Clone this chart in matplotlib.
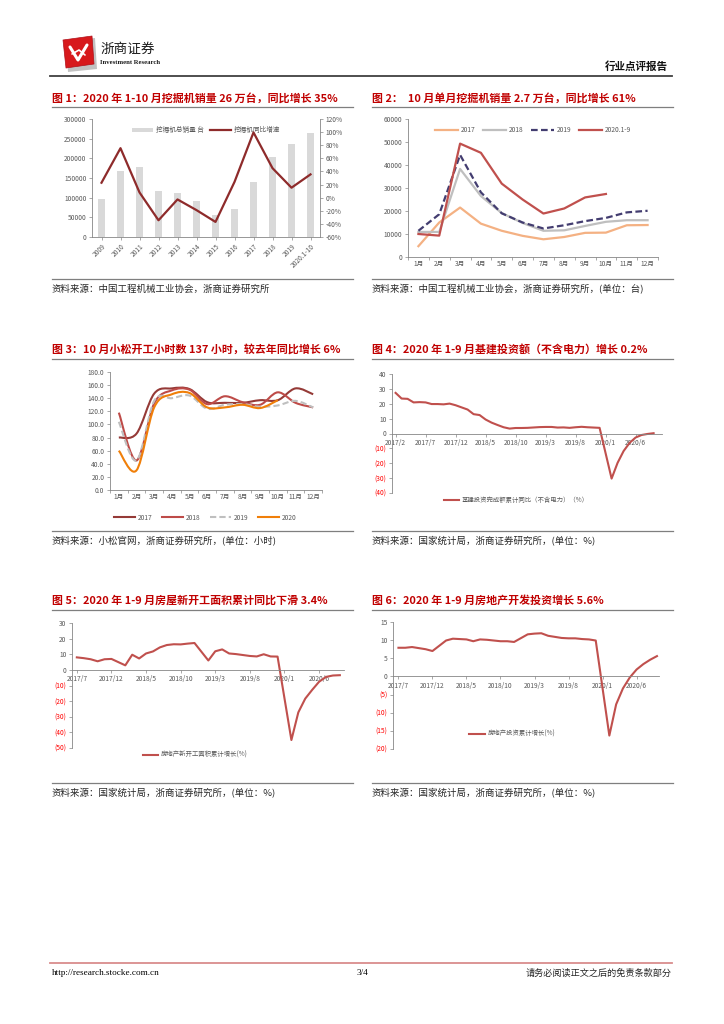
import numpy as np
import matplotlib
matplotlib.use('Agg')
import matplotlib.pyplot as plt
from matplotlib.path import Path
from matplotlib.patches import PathPatch, Polygon
from matplotlib.lines import Line2D

plt.rcParams['font.family'] = ['Noto Sans CJK SC', 'DejaVu Sans']

# ---------------- data ----------------

# chart 1: annual excavator sales and yoy growth
years = ['2009', '2010', '2011', '2012', '2013', '2014', '2015', '2016', '2017',
         '2018', '2019', '2020.1-10']
annual_sales = [96000, 168000, 179000, 116000, 113000, 91000, 57000, 70500, 140500,
                203500, 236000, 264500]
annual_yoy = [22.8, 75.5, 8.0, -34.5, -2.7, -19.0, -37.0, 24.0, 99.5, 45.0, 15.2, 35.5]

# chart 2: monthly excavator sales
months = ['1月', '2月', '3月', '4月', '5月', '6月', '7月', '8月', '9月', '10月', '11月', '12月']
sales_2017 = [4700, 15000, 21500, 14500, 11400, 9200, 7700, 8700, 10500, 10600, 13800, 13900]
sales_2018 = [10900, 10900, 38300, 26500, 19100, 14800, 11400, 11600, 13500, 15300, 16000, 16000]
sales_2019 = [11400, 18600, 44400, 28100, 19000, 15000, 12400, 13800, 15600, 17000, 19400, 20100]
sales_2020 = [10000, 9300, 49300, 45300, 31900, 25000, 18900, 21100, 25900, 27400]

# chart 3: Komatsu working hours
hours_2017 = [80, 86, 147, 155, 154, 134, 133, 133, 137, 137, 155, 146]
hours_2018 = [118, 45, 132, 152, 153, 131, 143, 134, 130, 149, 133, 126]
hours_2019 = [104, 45, 136, 140, 144, 124, 130, 131, 127, 129, 136, 126]
hours_2020 = [60, 30, 126, 146, 148, 126, 126, 130, 125, 137]

# chart 4: infrastructure investment (ex power), cumulative yoy %
infra_months = ['2017/2', '2017/3', '2017/4', '2017/5', '2017/6', '2017/7', '2017/8', '2017/9',
                '2017/10', '2017/11', '2017/12',
                '2018/2', '2018/3', '2018/4', '2018/5', '2018/6', '2018/7', '2018/8', '2018/9',
                '2018/10', '2018/11', '2018/12',
                '2019/2', '2019/3', '2019/4', '2019/5', '2019/6', '2019/7', '2019/8', '2019/9',
                '2019/10', '2019/11', '2019/12',
                '2020/2', '2020/3', '2020/4', '2020/5', '2020/6', '2020/7', '2020/8', '2020/9']
infra_yoy = [27.3, 23.5, 23.3, 20.9, 21.1, 20.9, 19.8, 19.8, 19.6, 20.1, 19.0,
             16.1, 13.0, 12.4, 9.4, 7.3, 5.7, 4.2, 3.3, 3.7, 3.7, 3.8,
             4.3, 4.4, 4.4, 4.0, 4.1, 3.8, 4.2, 4.5, 4.2, 4.0, 3.8,
             -30.3, -19.7, -11.8, -6.3, -2.7, -1.0, -0.3, 0.2]
infra_ticks = ['2017/2', '2017/7', '2017/12', '2018/5', '2018/10', '2019/3', '2019/8', '2020/1', '2020/6']

# chart 5 & 6: real estate
estate_months = ['2017/7', '2017/8', '2017/9', '2017/10', '2017/11', '2017/12',
                 '2018/2', '2018/3', '2018/4', '2018/5', '2018/6', '2018/7', '2018/8', '2018/9',
                 '2018/10', '2018/11', '2018/12',
                 '2019/2', '2019/3', '2019/4', '2019/5', '2019/6', '2019/7', '2019/8', '2019/9',
                 '2019/10', '2019/11', '2019/12',
                 '2020/2', '2020/3', '2020/4', '2020/5', '2020/6', '2020/7', '2020/8', '2020/9']
new_start_yoy = [8.0, 7.5, 6.8, 5.5, 6.8, 7.0,
                 2.9, 9.7, 7.3, 10.5, 11.8, 14.4, 15.9, 16.4, 16.3, 16.8, 17.2,
                 6.0, 11.9, 13.1, 10.5, 10.1, 9.5, 8.9, 8.6, 10.0, 8.6, 8.5,
                 -44.9, -27.2, -18.4, -12.8, -7.6, -4.5, -3.6, -3.4]
estate_inv_yoy = [7.9, 7.9, 8.1, 7.8, 7.5, 7.0,
                  9.9, 10.4, 10.3, 10.2, 9.7, 10.2, 10.1, 9.9, 9.7, 9.7, 9.5,
                  11.6, 11.8, 11.9, 11.2, 10.9, 10.6, 10.5, 10.5, 10.3, 10.2, 9.9,
                  -16.3, -7.7, -3.3, -0.3, 1.9, 3.4, 4.6, 5.6]
estate_ticks = ['2017/7', '2017/12', '2018/5', '2018/10', '2019/3', '2019/8', '2020/1', '2020/6']

# ---------------- helpers ----------------

W, H = 724, 1024
fig = plt.figure(figsize=(7.24, 10.24), dpi=100)

TITLE_RED = '#C00000'
GRID_GRAY = '#868686'
TICK_GRAY = '#595959'
LINE_RED = '#C0504D'


def px_axes(x0, y0, x1, y1):
    return fig.add_axes([x0 / W, 1 - y1 / H, (x1 - x0) / W, (y1 - y0) / H])


def ftext(x, y, s, **kw):
    kw.setdefault('va', 'center')
    fig.text(x / W, 1 - y / H, s, **kw)


def fline(x0, x1, y, color='#7f7f7f', lw=0.8):
    fig.add_artist(Line2D([x0 / W, x1 / W], [1 - y / H, 1 - y / H], color=color, lw=lw))


def block_frame(x0, x1, ytitle, yline_top, yline_bot, title, source):
    ftext(x0, ytitle, title, color=TITLE_RED, fontsize=7.9, fontweight='bold')
    fline(x0, x1, yline_top, color='#7f7f7f', lw=0.9)
    fline(x0, x1, yline_bot, color='#7f7f7f', lw=0.9)
    ftext(x0, yline_bot + 10, source, fontsize=6.8, color='#262626')


def style(ax, spines=('left', 'bottom')):
    for name, sp in ax.spines.items():
        if name in spines:
            sp.set_color(GRID_GRAY)
            sp.set_linewidth(0.6)
        else:
            sp.set_visible(False)
    ax.tick_params(labelsize=4.8, colors=GRID_GRAY, labelcolor=TICK_GRAY,
                   length=2, width=0.5, pad=2)


def month_index(label, start):
    y, m = map(int, label.split('/'))
    y0, m0 = map(int, start.split('/'))
    return (y - y0) * 12 + (m - m0)


def smooth_path(xs, ys):
    pts = np.column_stack([xs, ys]).astype(float)
    verts = [pts[0]]
    codes = [Path.MOVETO]
    n = len(pts)
    for i in range(n - 1):
        p0 = pts[i - 1] if i > 0 else pts[i]
        p1, p2 = pts[i], pts[i + 1]
        p3 = pts[i + 2] if i + 2 < n else pts[i + 1]
        verts += [p1 + (p2 - p0) / 6, p2 - (p3 - p1) / 6, p2]
        codes += [Path.CURVE4] * 3
    return Path(verts, codes)


def paren_ticks(ax, ticks):
    labels = [f'({abs(v):.0f})' if v < 0 else f'{v:.0f}' for v in ticks]
    ax.set_yticks(ticks, labels)
    for lab, v in zip(ax.get_yticklabels(), ticks):
        lab.set_color('#FF0000' if v < 0 else TICK_GRAY)


def yoy_chart(ax, months_lbl, values, start, tick_lbls, ylim, ystep, xlim):
    xs = [month_index(m, start) for m in months_lbl]
    ax.plot(xs, values, color=LINE_RED, lw=1.5)
    ax.set_xlim(*xlim)
    ax.set_ylim(*ylim)
    style(ax)
    ax.spines['bottom'].set_position(('data', 0))
    ax.set_xticks([month_index(t, start) for t in tick_lbls], tick_lbls)
    paren_ticks(ax, list(range(ylim[0], ylim[1] + 1, ystep)))


# ---------------- header / footer ----------------

# logo
fig.add_artist(Polygon([(66 / W, 1 - 41 / H), (95 / W, 1 - 38 / H), (97 / W, 1 - 69 / H),
                        (68 / W, 1 - 72 / H)], closed=True, transform=fig.transFigure,
                       facecolor='#9a9a9a', edgecolor='none', alpha=0.6))
fig.add_artist(Polygon([(63 / W, 1 - 40 / H), (92 / W, 1 - 36 / H), (94 / W, 1 - 64 / H),
                        (66 / W, 1 - 68 / H)], closed=True, transform=fig.transFigure,
                       facecolor='#D7191C', edgecolor='#B0101A', lw=0.5, joinstyle='round'))
fig.add_artist(Line2D([70 / W, 78 / W, 87 / W], [1 - 47 / H, 1 - 60 / H, 1 - 45 / H],
                      color='white', lw=2.2, solid_capstyle='round'))
fig.add_artist(Line2D([72 / W, 79 / W, 85 / W], [1 - 54 / H, 1 - 50 / H, 1 - 55 / H],
                      color='white', lw=1.2, solid_capstyle='round'))
ftext(100, 49, '浙商证券', fontsize=9.8, color='#1a1a1a')
ftext(100, 62, 'Investment Research', fontsize=4.8, color='#1a1a1a',
      family='Liberation Serif', fontweight='bold')
ftext(668, 67, '行业点评报告', fontsize=7.6, fontweight='bold', ha='right', color='#111111')
fline(50, 672, 76, color='#404040', lw=1.3)

fline(50, 672, 963, color='#D98C8C', lw=1.3)
ftext(52, 973, 'http://research.stocke.com.cn', fontsize=6.6, family='Liberation Serif')
ftext(362, 973, '3/4', fontsize=6.6, family='Liberation Serif', ha='center')
ftext(672, 973, '请务必阅读正文之后的免责条款部分', fontsize=6.6, ha='right', color='#262626')

# ---------------- chart 1 ----------------

block_frame(52, 353, 98, 107, 279,
            '图 1：2020 年 1-10 月挖掘机销量 26 万台，同比增长 35%',
            '资料来源：中国工程机械工业协会，浙商证券研究所')
ax1 = px_axes(92, 119, 320, 237)
x = np.arange(len(years))
bars = ax1.bar(x, annual_sales, width=0.38, color='#D9D9D9', label='挖掘机总销量 台')
ax1.set_xlim(-0.5, len(years) - 0.5)
ax1.set_ylim(0, 300000)
ax1.set_yticks(range(0, 300001, 50000))
ax1.set_xticks(x, years, rotation=45, ha='right', rotation_mode='anchor')
style(ax1, spines=('left', 'bottom'))
ax1b = ax1.twinx()
line1, = ax1b.plot(x, annual_yoy, color='#8E2B2B', lw=1.6, label='挖掘机同比增速')
ax1b.set_ylim(-60, 120)
ax1b.set_yticks(range(-60, 121, 20), [f'{v}%' for v in range(-60, 121, 20)])
style(ax1b, spines=('right',))
ax1.legend(handles=[bars, line1], loc='upper center', bbox_to_anchor=(0.5, 0.99), ncol=2,
           frameon=False, fontsize=4.8, labelcolor=TICK_GRAY, handlelength=3.2,
           handleheight=0.6, columnspacing=1.0, handletextpad=0.4)

# ---------------- chart 2 ----------------

block_frame(372, 673, 98, 107, 279,
            '图 2：  10 月单月挖掘机销量 2.7 万台，同比增长 61%',
            '资料来源：中国工程机械工业协会，浙商证券研究所，(单位：台)')
ax2 = px_axes(408, 119, 658, 257)
ax2.plot(range(12), sales_2017, color='#F4B183', lw=1.6, label='2017')
ax2.plot(range(12), sales_2018, color='#BFBFBF', lw=1.6, label='2018')
ax2.plot(range(12), sales_2019, color='#433D70', lw=1.6, ls=(0, (3, 1.5)), label='2019')
ax2.plot(range(len(sales_2020)), sales_2020, color=LINE_RED, lw=1.6, label='2020.1-9')
ax2.set_xlim(-0.5, 11.5)
ax2.set_ylim(0, 60000)
ax2.set_yticks(range(0, 60001, 10000))
ax2.set_xticks(range(12), months)
ax2.set_xticks(np.arange(-0.5, 12, 1), minor=True)
style(ax2)
ax2.tick_params(axis='x', which='major', length=0)
ax2.tick_params(axis='x', which='minor', length=2, width=0.5, colors=GRID_GRAY)
ax2.legend(loc='upper center', bbox_to_anchor=(0.5, 0.99), ncol=4, frameon=False,
           fontsize=4.8, labelcolor=TICK_GRAY, handlelength=3.4, columnspacing=1.2,
           handletextpad=0.4)

# ---------------- chart 3 ----------------

block_frame(52, 353, 349, 359, 531,
            '图 3：10 月小松开工小时数 137 小时，较去年同比增长 6%',
            '资料来源：小松官网，浙商证券研究所，(单位：小时)')
ax3 = px_axes(110, 372, 322, 490)
series3 = [('2017', hours_2017, '#953A37', '-'),
           ('2018', hours_2018, '#BE4B48', '-'),
           ('2019', hours_2019, '#BFBFBF', (0, (3, 1.5))),
           ('2020', hours_2020, '#F07F09', '-')]
handles3 = []
for name, vals, col, ls in series3:
    ax3.add_patch(PathPatch(smooth_path(np.arange(len(vals)), vals), fill=False,
                            edgecolor=col, lw=1.5, linestyle=ls))
    handles3.append(Line2D([], [], color=col, lw=1.5, linestyle=ls, label=name))
ax3.set_xlim(-0.5, 11.5)
ax3.set_ylim(0, 180)
ax3.set_yticks(range(0, 181, 20), [f'{v:.1f}' for v in range(0, 181, 20)])
ax3.set_xticks(range(12), months)
ax3.set_xticks(np.arange(-0.5, 12, 1), minor=True)
style(ax3)
ax3.tick_params(axis='x', which='major', length=0)
ax3.tick_params(axis='x', which='minor', length=2, width=0.5, colors=GRID_GRAY)
ax3.legend(handles=handles3, loc='center', bbox_to_anchor=(0.45, -0.235), ncol=4,
           frameon=False, fontsize=4.8, labelcolor=TICK_GRAY, handlelength=3.2,
           columnspacing=1.4, handletextpad=0.4)

# ---------------- chart 4 ----------------

block_frame(372, 673, 349, 359, 531,
            '图 4：2020 年 1-9 月基建投资额（不含电力）增长 0.2%',
            '资料来源：国家统计局，浙商证券研究所，(单位：%)')
ax4 = px_axes(392, 374, 662, 493)
yoy_chart(ax4, infra_months, infra_yoy, '2017/2', infra_ticks, (-40, 40), 10, (-0.6, 44.4))
ax4.legend(['基建投资完成额累计同比（不含电力）（%）'], loc='center left',
           bbox_to_anchor=(438 / W, 1 - 500 / H), bbox_transform=fig.transFigure,
           frameon=False, fontsize=4.6, labelcolor=TICK_GRAY, handlelength=2.4,
           handletextpad=0.4)

# ---------------- chart 5 ----------------

block_frame(52, 353, 600, 610, 783,
            '图 5：2020 年 1-9 月房屋新开工面积累计同比下滑 3.4%',
            '资料来源：国家统计局，浙商证券研究所，(单位：%)')
ax5 = px_axes(72, 623, 344, 748)
yoy_chart(ax5, estate_months, new_start_yoy, '2017/7', estate_ticks, (-50, 30), 10, (-0.7, 38.6))
ax5.legend(['房地产新开工面积累计增长(%)'], loc='center left',
           bbox_to_anchor=(137 / W, 1 - 755 / H), bbox_transform=fig.transFigure,
           frameon=False, fontsize=4.6, labelcolor=TICK_GRAY, handlelength=2.4,
           handletextpad=0.4)

# ---------------- chart 6 ----------------

block_frame(372, 673, 600, 610, 783,
            '图 6：2020 年 1-9 月房地产开发投资增长 5.6%',
            '资料来源：国家统计局，浙商证券研究所，(单位：%)')
ax6 = px_axes(393, 622, 659, 749)
yoy_chart(ax6, estate_months, estate_inv_yoy, '2017/7', estate_ticks, (-20, 15), 5, (-0.8, 38.3))
ax6.legend(['房地产投资累计增长(%)'], loc='center left',
           bbox_to_anchor=(463 / W, 1 - 734 / H), bbox_transform=fig.transFigure,
           frameon=False, fontsize=4.6, labelcolor=TICK_GRAY, handlelength=2.6,
           handletextpad=0.4)

fig.savefig('out.png', dpi=100, facecolor='white')
